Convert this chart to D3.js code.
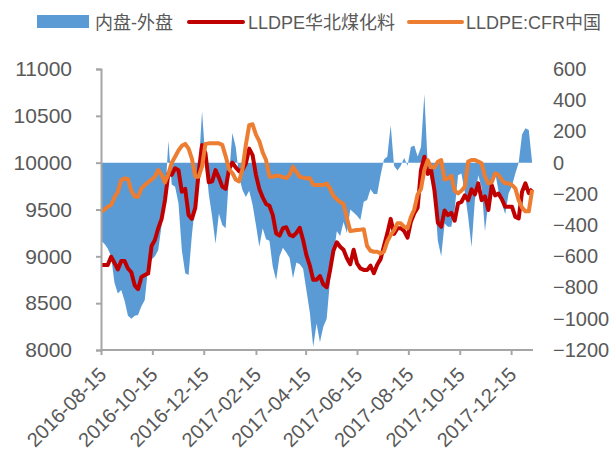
<!DOCTYPE html>
<html>
<head>
<meta charset="utf-8">
<script src="https://cdn.jsdelivr.net/npm/d3@7"></script>
<style>
  body { margin: 0; background: #fff; }
  svg text { font-family: "Liberation Sans", Arial, "Noto Sans CJK SC", sans-serif; fill: #595959; }
</style>
</head>
<body>
<svg id="chart" width="612" height="457"></svg>
<script>
// 4-day sampling from 2016-08-15
const startDate = new Date(2016, 7, 15);
const endDate = new Date(2018, 0, 10);

const spread = [ // 内盘-外盘 (right axis)
  -500, -520, -550, -600, -770, -838, -816, -885, -980, -1000,
  -980, -975, -920, -880, -667, -620, -600, -560, -400, -239,
  140, -140, -154, -260, -560, -709, -720, -460, -260, -30,
  330, 20, -200, -346, -520, -325, -400, -420, -90, 190,
  100, -90, -175, -220, -180, -270, -400, -538, -420, -490,
  -500, -667, -752, -600, -545, -575, -610, -740, -640, -650,
  -680, -820, -960, -1180, -1030, -1150, -1051, -1000, -752, -600,
  -440, -470, -380, -450, -300, -320, -340, -368, -250, -239,
  -170, -200, -200, -80, 20, 40, 240, -20, -50, -20,
  30, -20, 100, 110, 40, 100, 440, -20, -120, -200,
  -500, -600, -390, -410, -410, -300, -80, -70, -190, -346,
  -540, -239, -80, -160, -440, -250, -100, -60, -180, -260,
  -330, -197, -150, -70, 0, 180, 220, 210, 0
];

const huabei = [ // LLDPE华北煤化料 (left axis)
  8907, 8907, 8907, 8996, 8930, 8860, 8950, 8950, 8870, 8830,
  8690, 8650, 8780, 8800, 8818, 9110, 9174, 9300, 9400, 9601,
  9886, 9870, 9940, 9920, 9690, 9720, 9440, 9400, 9520, 9900,
  10189, 10100, 9790, 9800, 9920, 9840, 9744, 9720, 9930, 10000,
  9950, 9910, 9922, 9990, 10150, 10080, 9870, 9720, 9630, 9560,
  9540, 9440, 9245, 9220, 9300, 9310, 9230, 9215, 9250, 9305,
  9174, 9010, 8900, 8750, 8750, 8790, 8700, 8670, 8850, 9060,
  9150, 9103, 9070, 8980, 8915, 9070, 8925, 8871, 8855, 8853,
  8900, 8820, 8910, 8970, 9110, 9245, 9400, 9240, 9300, 9300,
  9270, 9200, 9370, 9460, 9520, 9922, 10064, 9880, 9922, 9700,
  9360, 9316, 9490, 9440, 9465, 9380, 9566, 9580, 9650, 9601,
  9715, 9660, 9779, 9600, 9640, 9494, 9760, 9650, 9670, 9610,
  9530, 9530, 9530, 9420, 9405, 9690, 9780, 9675, 9720
];

const cfr = [ // LLDPE:CFR中国 (left axis)
  9470, 9500, 9530, 9548, 9630, 9690, 9815, 9830, 9825, 9700,
  9640, 9637, 9726, 9760, 9790, 9820, 9850, 9922, 9870, 9790,
  9880, 10000, 10064, 10130, 10180, 10200, 10150, 10040, 9850, 9850,
  9960, 10200, 10206, 10206, 10206, 10206, 10190, 10070, 9930, 9890,
  9820, 9800, 9930, 10190, 10400, 10410, 10300, 10230, 10110, 10028,
  9850, 9850, 9860, 9860, 9845, 9835, 9870, 9957, 9900, 9850,
  9840, 9833, 9833, 9765, 9761, 9761, 9761, 9778, 9726, 9645,
  9610, 9580, 9560, 9410, 9270, 9275, 9281, 9285, 9290, 9110,
  9060, 9049, 9049, 9030, 9050, 9160, 9227, 9280, 9352, 9352,
  9316, 9300, 9420, 9500, 9660, 9720, 9922, 10028, 9950, 9950,
  10010, 10028, 9820, 9833, 9860, 9700, 9672, 9700, 9744, 10011,
  10028, 10028, 10011, 9993, 9850, 9779, 9790, 9886, 9868, 9815,
  9779, 9779, 9761, 9726, 9600, 9520, 9480, 9480, 9710
];

const dates = spread.map((d, i) => d3.timeDay.offset(startDate, 4 * i));

const xTickLabels = ["2016-08-15", "2016-10-15", "2016-12-15", "2017-02-15", "2017-04-15",
  "2017-06-15", "2017-08-15", "2017-10-15", "2017-12-15"];
const leftTicks = [8000, 8500, 9000, 9500, 10000, 10500, 11000];
const rightTicks = [-1200, -1000, -800, -600, -400, -200, 0, 200, 400, 600];

const svg = d3.select("#chart");
const parse = d3.timeParse("%Y-%m-%d");

const x = d3.scaleTime().domain([startDate, endDate]).range([101, 533]);
const yL = d3.scaleLinear().domain([8000, 11000]).range([350, 69]);
const yR = d3.scaleLinear().domain([-1200, 600]).range([350, 69]);

const axisColor = "#a6a6a6";

// area
const area = d3.area()
  .x((d, i) => x(dates[i]))
  .y0(yR(0))
  .y1(d => yR(d));
svg.append("path")
  .datum(spread)
  .attr("d", area)
  .attr("fill", "#5b9bd5");

// lines
const line = d3.line()
  .x((d, i) => x(dates[i]))
  .y(d => yL(d))
  .curve(d3.curveLinear);

svg.append("path")
  .datum(huabei)
  .attr("d", line)
  .attr("fill", "none")
  .attr("stroke", "#c00000")
  .attr("stroke-width", 4)
  .attr("stroke-linejoin", "round");

svg.append("path")
  .datum(cfr)
  .attr("d", line)
  .attr("fill", "none")
  .attr("stroke", "#ed7d31")
  .attr("stroke-width", 4)
  .attr("stroke-linejoin", "round");

// left axis
const gL = svg.append("g").attr("transform", "translate(101,0)")
  .call(d3.axisLeft(yL).tickValues(leftTicks).tickSize(5).tickPadding(24).tickFormat(d3.format("d")));
gL.select(".domain").attr("stroke", axisColor).attr("stroke-width", 2);
gL.selectAll(".tick line").attr("stroke", axisColor).attr("stroke-width", 2);
gL.selectAll(".tick text").style("font-size", "21px").attr("fill", "#595959");

// right axis (labels only)
const gR = svg.append("g").attr("transform", "translate(553,0)")
  .call(d3.axisRight(yR).tickValues(rightTicks).tickSize(0).tickPadding(0).tickFormat(d3.format("d")));
gR.select(".domain").remove();
gR.selectAll(".tick text").style("font-size", "20px").attr("fill", "#595959");

// bottom axis
const gB = svg.append("g").attr("transform", "translate(0,350)")
  .call(d3.axisBottom(x).tickValues(xTickLabels.map(parse)).tickSize(5).tickFormat(d3.timeFormat("%Y-%m-%d")));
gB.select(".domain").attr("stroke", axisColor).attr("stroke-width", 2).attr("d", "M101,0H533");
gB.selectAll(".tick line").attr("stroke", axisColor).attr("stroke-width", 2);
gB.selectAll(".tick text")
  .style("font-size", "20px")
  .attr("fill", "#595959")
  .attr("text-anchor", "end")
  .attr("y", 0).attr("dy", 0)
  .attr("transform", "translate(6,26) rotate(-45)");

// legend
const lg = svg.append("g");
lg.append("rect").attr("x", 37).attr("y", 15).attr("width", 52).attr("height", 13).attr("fill", "#5b9bd5");
lg.append("text").attr("x", 95).attr("y", 29).style("font-size", "18px").text("内盘-外盘");
lg.append("line").attr("x1", 189).attr("x2", 243).attr("y1", 22).attr("y2", 22)
  .attr("stroke", "#c00000").attr("stroke-width", 4).attr("stroke-linecap", "round");
lg.append("text").attr("x", 248).attr("y", 29).style("font-size", "18px").text("LLDPE华北煤化料");
lg.append("line").attr("x1", 409).attr("x2", 462).attr("y1", 22).attr("y2", 22)
  .attr("stroke", "#ed7d31").attr("stroke-width", 4).attr("stroke-linecap", "round");
lg.append("text").attr("x", 466).attr("y", 29).style("font-size", "18px").text("LLDPE:CFR中国");
</script>
</body>
</html>
